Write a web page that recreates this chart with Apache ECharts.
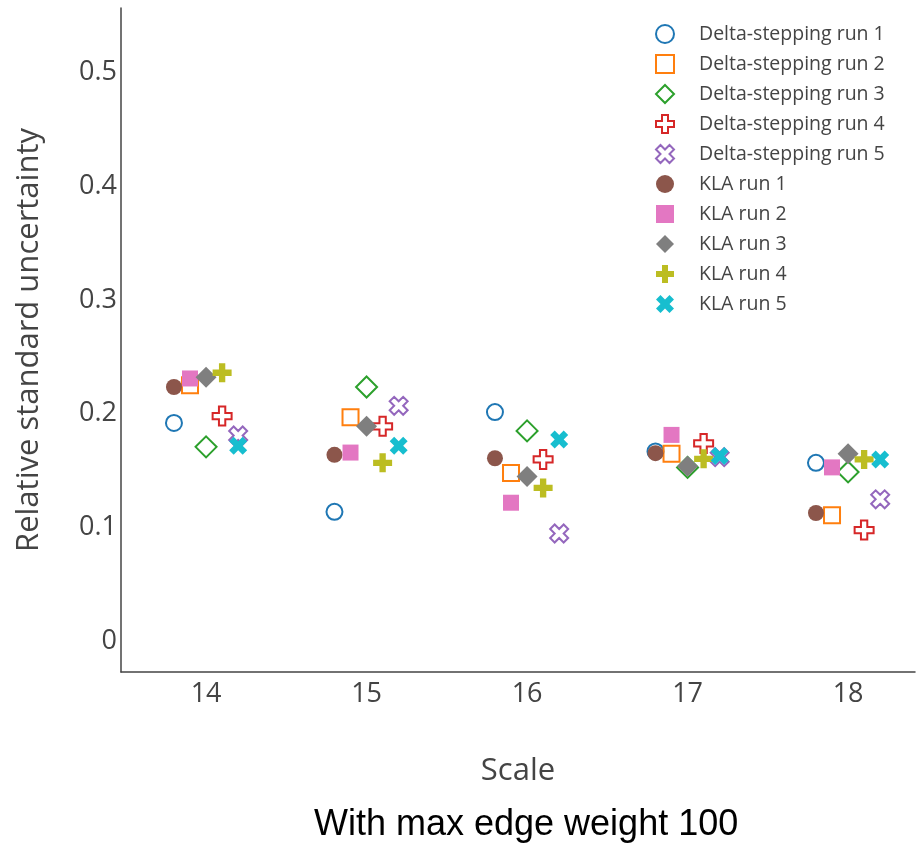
<!DOCTYPE html>
<html>
<head>
<meta charset="utf-8">
<title>Relative standard uncertainty</title>
<script src="https://cdn.jsdelivr.net/npm/echarts@6/dist/echarts.min.js"></script>
<style>
  html, body { margin: 0; padding: 0; background: #fff; }
  #chart { width: 916px; height: 849px; }
</style>
</head>
<body>
<div id="chart"></div>
<script>
/* 横轴刻度 (Scale) */
var scales = [14, 15, 16, 17, 18];

/* 每个 run 在刻度两侧的偏移 */
var runOffsets = [-0.2, -0.1, 0, 0.1, 0.2];

/* 图例名称 */
var seriesNames = [
    'Delta-stepping run 1', 'Delta-stepping run 2', 'Delta-stepping run 3',
    'Delta-stepping run 4', 'Delta-stepping run 5',
    'KLA run 1', 'KLA run 2', 'KLA run 3', 'KLA run 4', 'KLA run 5'
];

/* Delta-stepping 各次运行 */
var ds1 = [0.192, 0.114, 0.2015, 0.167, 0.157];
var ds2 = [0.225, 0.197, 0.148, 0.165, 0.111];
var ds3 = [0.171, 0.2235, 0.185, 0.153, 0.149];
var ds4 = [0.198, 0.189, 0.160, 0.174, 0.098];
var ds5 = [0.181, 0.207, 0.095, 0.162, 0.125];

/* KLA 各次运行 */
var kla1 = [0.2235, 0.164, 0.161, 0.1655, 0.113];
var kla2 = [0.231, 0.166, 0.122, 0.1815, 0.153];
var kla3 = [0.232, 0.189, 0.145, 0.154, 0.165];
var kla4 = [0.236, 0.157, 0.135, 0.1605, 0.160];
var kla5 = [0.172, 0.172, 0.1775, 0.163, 0.160];

var allValues = [ds1, ds2, ds3, ds4, ds5, kla1, kla2, kla3, kla4, kla5];

var colors = ['#1f77b4', '#ff7f0e', '#2ca02c', '#d62728', '#9467bd',
              '#8c564b', '#e377c2', '#7f7f7f', '#bcbd22', '#17becf'];

// plotly 风格的 cross / x 图形
var crossPath = 'path://M12,8H8V12H4V8H0V4H4V0H8V4H12Z';
var xPath = 'path://M2,3L3,4L4,3L3,2L4,1L3,0L2,1L1,0L0,1L1,2L0,3L1,4Z';

var symbols = ['circle', 'rect', 'diamond', crossPath, xPath];
var symbolSizes = [16, 16, 21, 19, 18];

var font = '"Open Sans", "DejaVu Sans", sans-serif';

/**
 * 生成散点系列
 */
function buildSeries() {
    var list = [];
    for (var s = 0; s < allValues.length; s++) {
        var run = s % 5;
        var open = s < 5;
        var pts = [];
        for (var i = 0; i < scales.length; i++) {
            pts.push([scales[i] + runOffsets[run], allValues[s][i]]);
        }
        list.push({
            name: seriesNames[s],
            type: 'scatter',
            data: pts,
            symbol: symbols[run],
            symbolSize: symbolSizes[run],
            itemStyle: open ? {
                color: 'transparent',
                borderColor: colors[s],
                borderWidth: 2,
                opacity: 1
            } : {
                color: colors[s],
                borderWidth: 0,
                opacity: 1
            },
            emphasis: { disabled: true }
        });
    }
    return list;
}

var chart = echarts.init(document.getElementById('chart'));

var option = {
    backgroundColor: '#fff',
    animation: false,
    title: {
        text: 'With max edge weight 100',
        left: 314,
        top: 807,
        padding: 0,
        textStyle: {
            fontFamily: '"Liberation Sans", Arial, sans-serif',
            fontSize: 36,
            fontWeight: 'normal',
            color: '#000'
        }
    },
    grid: {
        left: 121,
        right: 1,
        top: 8,
        bottom: 177
    },
    legend: {
        orient: 'vertical',
        left: 655,
        top: 24,
        padding: 0,
        itemWidth: 18,
        itemHeight: 18,
        itemGap: 10,
        data: seriesNames,
        formatter: function (name) {
            return '{t|' + name + '}';
        },
        textStyle: {
            fontFamily: font,
            fontSize: 19.5,
            color: '#444',
            rich: {
                t: { fontFamily: font, fontSize: 19.5, color: '#444', padding: [0, 0, 0, 20] }
            }
        }
    },
    xAxis: {
        type: 'value',
        min: 13.47,
        max: 18.417,
        name: 'Scale',
        nameLocation: 'middle',
        nameGap: 84,
        nameTextStyle: { fontFamily: font, fontSize: 31, color: '#444' },
        axisLine: { show: true, onZero: false, lineStyle: { color: '#444', width: 1.5 } },
        axisTick: { show: false },
        splitLine: { show: false },
        axisLabel: {
            showMinLabel: false,
            showMaxLabel: false,
            margin: 9,
            fontFamily: font,
            fontSize: 27,
            color: '#444'
        }
    },
    yAxis: {
        type: 'value',
        min: -0.0265,
        max: 0.556,
        name: 'Relative standard uncertainty',
        nameLocation: 'middle',
        nameGap: 76,
        nameTextStyle: { fontFamily: font, fontSize: 31, color: '#444' },
        axisLine: { show: true, onZero: false, lineStyle: { color: '#444', width: 1.5 } },
        axisTick: { show: false },
        splitLine: { show: false },
        axisLabel: {
            showMinLabel: false,
            showMaxLabel: false,
            margin: 4,
            fontFamily: font,
            fontSize: 27,
            color: '#444'
        }
    },
    series: buildSeries()
};

chart.setOption(option);
</script>
</body>
</html>
